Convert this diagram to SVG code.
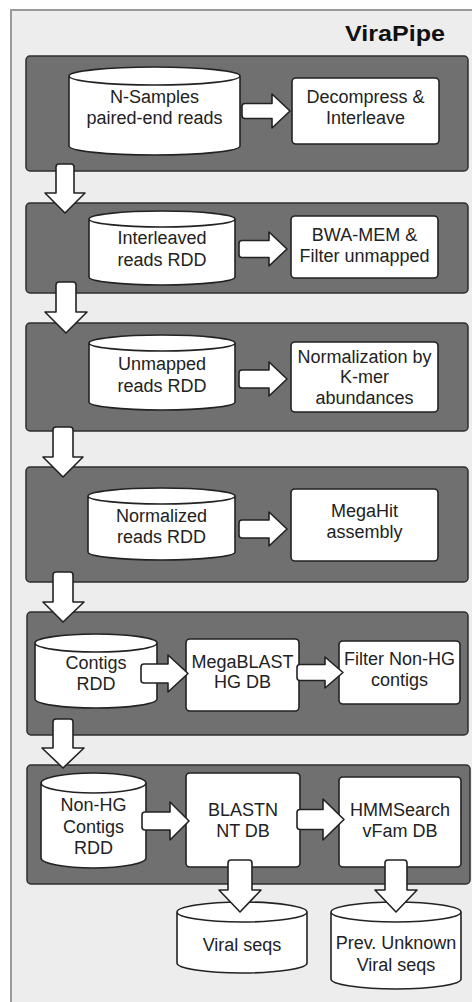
<svg xmlns="http://www.w3.org/2000/svg" width="472" height="1002" viewBox="0 0 472 1002">
<style>
.bg{fill:#ededed;stroke:#9a9a9a;stroke-width:2}
.panel{fill:#707070;stroke:#2e2e2e;stroke-width:1.5}
.node{fill:#ffffff;stroke:#222222;stroke-width:1.6;stroke-linejoin:round}
.arrow{fill:#ffffff;stroke:#222222;stroke-width:1.6;stroke-linejoin:round}
.t{font-family:"Liberation Sans",Arial,sans-serif;font-size:18px;fill:#222222;text-anchor:middle}
.title{font-family:"Liberation Sans",Arial,sans-serif;font-size:22px;font-weight:bold;fill:#111111;text-anchor:end}
</style>
<rect x="0" y="0" width="472" height="1002" fill="#ffffff"/>
<rect class="bg" x="11" y="10" width="470" height="1002"/>
<text class="title" x="445" y="41" textLength="100" lengthAdjust="spacingAndGlyphs">ViraPipe</text>

<g id="panels">
<rect id="stage1" class="panel" x="26" y="56" width="442" height="115" rx="4"/>
<rect id="stage2" class="panel" x="26" y="203" width="442" height="90" rx="4"/>
<rect id="stage3" class="panel" x="26" y="323" width="442" height="108" rx="4"/>
<rect id="stage4" class="panel" x="26" y="467" width="442" height="115" rx="4"/>
<rect id="stage5" class="panel" x="27" y="612" width="441" height="123" rx="4"/>
<rect id="stage6" class="panel" x="27" y="765" width="443" height="119" rx="4"/>
</g>

<g id="n1">
<path class="node" d="M69 76 V146 A85.5 9 0 0 0 240 146 V76 A85.5 9 0 0 0 69 76 Z M69 76 A85.5 9 0 0 0 240 76"/>
<text class="t" x="154.5" y="103">N-Samples</text>
<text class="t" x="154.5" y="124">paired-end reads</text>
</g>
<g id="n2">
<rect class="node" x="292" y="78" width="147" height="66" rx="4"/>
<text class="t" x="365.5" y="103">Decompress &amp;</text>
<text class="t" x="365.5" y="124">Interleave</text>
</g>

<g id="n3">
<path class="node" d="M89 219 V277 A73 8 0 0 0 235 277 V219 A73 8 0 0 0 89 219 Z M89 219 A73 8 0 0 0 235 219"/>
<text class="t" x="162" y="244">Interleaved</text>
<text class="t" x="162" y="266">reads RDD</text>
</g>
<g id="n4">
<rect class="node" x="291" y="216" width="147" height="62" rx="4"/>
<text class="t" x="364.5" y="241">BWA-MEM &amp;</text>
<text class="t" x="364.5" y="262">Filter unmapped</text>
</g>

<g id="n5">
<path class="node" d="M89 343 V402 A73 8 0 0 0 235 402 V343 A73 8 0 0 0 89 343 Z M89 343 A73 8 0 0 0 235 343"/>
<text class="t" x="162" y="370">Unmapped</text>
<text class="t" x="162" y="392">reads RDD</text>
</g>
<g id="n6">
<rect class="node" x="291" y="342" width="147" height="70" rx="4"/>
<text class="t" x="364.5" y="363">Normalization by</text>
<text class="t" x="364.5" y="383">K-mer</text>
<text class="t" x="364.5" y="404">abundances</text>
</g>

<g id="n7">
<path class="node" d="M88 496 V552 A73.5 8 0 0 0 235 552 V496 A73.5 8 0 0 0 88 496 Z M88 496 A73.5 8 0 0 0 235 496"/>
<text class="t" x="161.5" y="522">Normalized</text>
<text class="t" x="161.5" y="543">reads RDD</text>
</g>
<g id="n8">
<rect class="node" x="291" y="489" width="147" height="72" rx="4"/>
<text class="t" x="364.5" y="517">MegaHit</text>
<text class="t" x="364.5" y="538">assembly</text>
</g>

<g id="n9">
<path class="node" d="M35 643 V699 A61 9 0 0 0 157 699 V643 A61 9 0 0 0 35 643 Z M35 643 A61 9 0 0 0 157 643"/>
<text class="t" x="96" y="669">Contigs</text>
<text class="t" x="96" y="690">RDD</text>
</g>
<g id="n10">
<rect class="node" x="186" y="639" width="113" height="72" rx="4"/>
<text class="t" x="242.5" y="668">MegaBLAST</text>
<text class="t" x="242.5" y="688">HG DB</text>
</g>
<g id="n11">
<rect class="node" x="339" y="641" width="121" height="63" rx="4"/>
<text class="t" x="399.5" y="665">Filter Non-HG</text>
<text class="t" x="399.5" y="686">contigs</text>
</g>

<g id="n12">
<path class="node" d="M41 783 V858 A52.5 10 0 0 0 146 858 V783 A52.5 10 0 0 0 41 783 Z M41 783 A52.5 10 0 0 0 146 783"/>
<text class="t" x="93.5" y="811">Non-HG</text>
<text class="t" x="93.5" y="833">Contigs</text>
<text class="t" x="93.5" y="854">RDD</text>
</g>
<g id="n13">
<rect class="node" x="186" y="773" width="114" height="94" rx="4"/>
<text class="t" x="243" y="816">BLASTN</text>
<text class="t" x="243" y="837">NT DB</text>
</g>
<g id="n14">
<rect class="node" x="339" y="777" width="122" height="90" rx="4"/>
<text class="t" x="400" y="816">HMMSearch</text>
<text class="t" x="400" y="837">vFam DB</text>
</g>

<g id="n15">
<path class="node" d="M177 912 V963 A65 10 0 0 0 307 963 V912 A65 10 0 0 0 177 912 Z M177 912 A65 10 0 0 0 307 912"/>
<text class="t" x="242" y="951">Viral seqs</text>
</g>
<g id="n16">
<path class="node" d="M331 912 V979 A65 10 0 0 0 461 979 V912 A65 10 0 0 0 331 912 Z M331 912 A65 10 0 0 0 461 912"/>
<text class="t" x="396" y="949">Prev. Unknown</text>
<text class="t" x="396" y="971">Viral seqs</text>
</g>

<g id="connectors">
<path class="arrow" d="M242 106.5 Q242 103.5 245 103.5 H272 V94 L290 111 L272 128 V118.5 H245 Q242 118.5 242 115.5 Z"/>
<path class="arrow" d="M239 243.5 Q239 240.5 242 240.5 H269 V232 L287 249 L269 266 V257.5 H242 Q239 257.5 239 254.5 Z"/>
<path class="arrow" d="M239 373 Q239 370 242 370 H269 V362 L287 379 L269 396 V388 H242 Q239 388 239 385 Z"/>
<path class="arrow" d="M239 523 Q239 520 242 520 H269 V512 L287 529 L269 546 V538 H242 Q239 538 239 535 Z"/>
<path class="arrow" d="M141 667 Q141 664 144 664 H168 V655 L188 673.5 L168 692 V683 H144 Q141 683 141 680 Z"/>
<path class="arrow" d="M297 667.5 Q297 664.5 300 664.5 H325 V657 L343 672.5 L325 688 V680.5 H300 Q297 680.5 297 677.5 Z"/>
<path class="arrow" d="M142 815 Q142 812 145 812 H170 V802 L189 821 L170 840 V830 H145 Q142 830 142 827 Z"/>
<path class="arrow" d="M297 812.5 Q297 809.5 300 809.5 H323 V799 L344 819.5 L323 840 V829.5 H300 Q297 829.5 297 826.5 Z"/>
<path class="arrow" d="M56 193 V167 Q56 164 59 164 H71 Q74 164 74 167 V193 H85 L65 213 L45 193 Z"/>
<path class="arrow" d="M56 312 V285 Q56 282 59 282 H73 Q76 282 76 285 V312 H87 L66 333 L45 312 Z"/>
<path class="arrow" d="M53 457 V430 Q53 427 56 427 H70 Q73 427 73 430 V457 H83 L63 477 L43 457 Z"/>
<path class="arrow" d="M53 602 V575 Q53 572 56 572 H70 Q73 572 73 575 V602 H84 L63 622 L43 602 Z"/>
<path class="arrow" d="M53 748 V722 Q53 719 56 719 H70 Q73 719 73 722 V748 H84 L63 768 L42 748 Z"/>
<path class="arrow" d="M228 890 V863 Q228 860 231 860 H249 Q252 860 252 863 V890 H261 L240 912 L219 890 Z"/>
<path class="arrow" d="M385 890 V863 Q385 860 388 860 H404 Q407 860 407 863 V890 H417 L396 912 L375 890 Z"/>
</g>
</svg>
